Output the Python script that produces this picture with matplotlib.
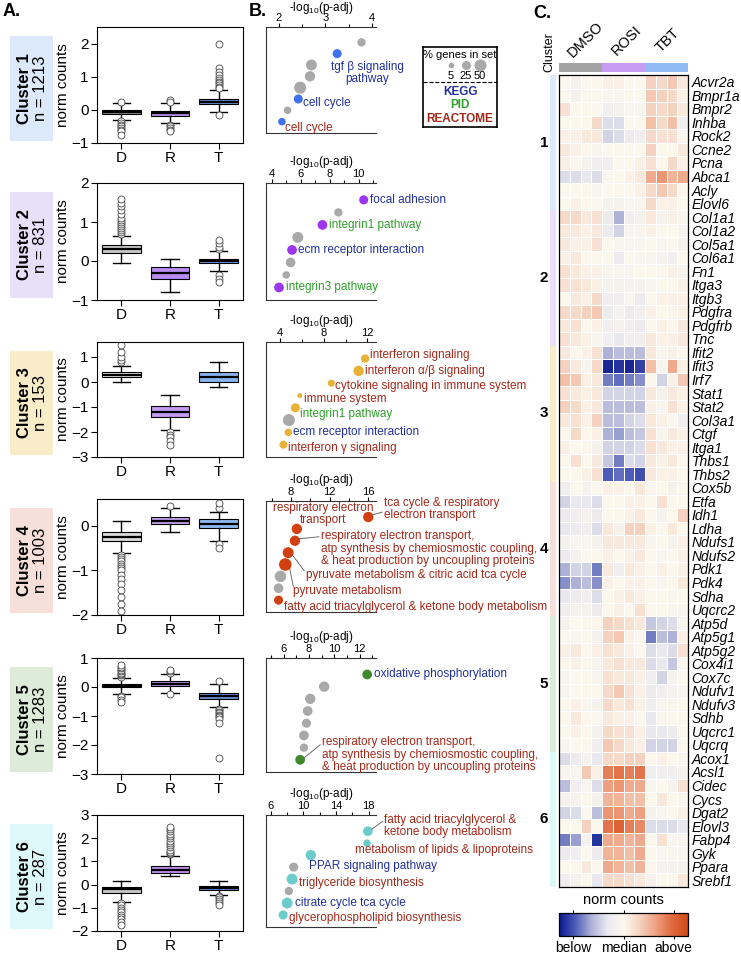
import matplotlib
matplotlib.use('Agg')
import matplotlib.pyplot as plt
import numpy as np
from matplotlib.colors import LinearSegmentedColormap, ListedColormap
from matplotlib.ticker import MultipleLocator

plt.rcParams['font.family'] = ['Liberation Sans', 'DejaVu Sans']
plt.rcParams['mathtext.fontset'] = 'custom'
plt.rcParams['mathtext.rm'] = 'Liberation Sans'
plt.rcParams['mathtext.it'] = 'Liberation Sans:italic'

# ---------------- data ----------------
cluster_n = [1213, 831, 153, 1003, 1283, 287]
cluster_bg = ['#dce9fb', '#e8dff9', '#f9edc9', '#f7dfda', '#dcecd8', '#ddf8f8']
groups = ['D', 'R', 'T']

# boxplot summaries (D, R, T) per cluster
box_med = [[-0.05, -0.1, 0.25], [0.3, -0.3, 0.0], [0.3, -1.2, 0.2],
           [-0.25, 0.1, 0.05], [0.05, 0.12, -0.3], [-0.2, 0.65, -0.15]]
box_q1 = [[-0.12, -0.18, 0.18], [0.2, -0.45, -0.05], [0.2, -1.4, 0.0],
          [-0.35, 0.03, -0.05], [0.0, 0.05, -0.4], [-0.35, 0.5, -0.22]]
box_q3 = [[0.0, -0.03, 0.33], [0.4, -0.15, 0.05], [0.4, -0.95, 0.4],
          [-0.15, 0.2, 0.15], [0.1, 0.2, -0.2], [-0.1, 0.8, -0.08]]
whis_lo = [[-0.3, -0.4, -0.05], [-0.05, -0.8, -0.25], [0.0, -1.9, -0.2],
           [-0.6, -0.15, -0.35], [-0.25, -0.2, -0.7], [-0.75, 0.35, -0.45]]
whis_hi = [[0.2, 0.2, 0.6], [0.65, 0.05, 0.25], [0.65, -0.5, 0.8],
           [0.1, 0.4, 0.3], [0.3, 0.45, 0.1], [0.15, 1.25, 0.15]]
fliers = [
    [[0.25, -0.35, -0.4, -0.45, -0.5, -0.55, -0.6, -0.65, -0.75],
     [0.3, 0.25, -0.45, -0.5, -0.55, -0.6, -0.65],
     [2.0, 1.25, 1.15, 1.05, 0.95, 0.9, 0.85, 0.8, 0.75, 0.7, 0.65, -0.15]],
    [[0.7, 0.75, 0.8, 0.85, 0.9, 0.95, 1.0, 1.05, 1.1, 1.2, 1.3, 1.4, 1.5, 1.6],
     [],
     [0.3, 0.35, 0.45, 0.55, -0.35, -0.45, -0.55]],
    [[0.8, 0.9, 1.0, 1.2, 1.5],
     [-2.0, -2.1, -2.2, -2.35, -2.5],
     []],
    [[-0.65, -0.7, -0.75, -0.8, -0.85, -0.9, -0.95, -1.0, -1.1, -1.2, -1.3, -1.45, -1.6, -1.75, -1.9],
     [0.45],
     [0.4, 0.5, -0.4, -0.5]],
    [[0.35, 0.4, 0.45, 0.5, 0.55, 0.6, 0.65, 0.7, 0.75, -0.3, -0.35, -0.45, -0.5],
     [0.5, 0.55, 0.6, -0.25],
     [0.2, -0.75, -0.8, -0.85, -0.9, -0.95, -1.0, -1.05, -1.1, -1.25, -2.45]],
    [[-0.8, -0.9, -1.0, -1.1, -1.2, -1.3, -1.4, -1.5, -1.6, -1.75],
     [1.3, 1.35, 1.4, 1.5, 1.6, 1.7, 1.8, 1.9, 2.0, 2.1, 2.2, 2.3, 2.4, 2.5],
     [-0.5, -0.55, -0.6, -0.7, -0.8, -0.9]],
]
box_colors = [['#8c8c8c', '#b68ce6', '#6f96d8'], ['#c8c8c8', '#b98cf0', '#7aa5e5'],
              ['#e4e4e4', '#c39cf0', '#8ab4f0'], ['#dadada', '#c5a0f0', '#90b8f0'],
              ['#707070', '#b890e8', '#6a8fd0'], ['#c8c8c8', '#c090f0', '#6a8fd0']]
a_ylim = [(-1, 2.5), (-1, 2), (-3, 1.6), (-2, 0.6), (-3, 1), (-2, 3)]
a_ticks = [[-1, 0, 1, 2], [-1, 0, 1, 2], [-3, -2, -1, 0, 1], [-2, -1, 0], [-3, -2, -1, 0, 1],
           [-2, -1, 0, 1, 2, 3]]

# enrichment (panel B)
b_x = [[3.77, 3.25, 2.7, 2.67, 2.46, 2.42, 2.19, 2.07],
       [10.35, 8.6, 7.5, 5.8, 5.4, 5.3, 5.0, 4.5],
       [11.8, 11.2, 8.7, 5.8, 5.4, 4.8, 4.75, 4.3],
       [16.0, 8.6, 8.4, 7.7, 7.4, 6.9, 6.7, 6.7],
       [12.6, 9.2, 8.1, 7.9, 7.8, 7.6, 7.6, 7.3],
       [17.9, 17.8, 10.9, 8.8, 8.6, 8.2, 8.0, 7.5]]
b_pct = [[20, 25, 40, 35, 50, 25, 15, 15],
         [25, 20, 30, 40, 30, 30, 15, 30],
         [20, 35, 12, 2, 25, 50, 15, 18],
         [35, 35, 35, 40, 55, 45, 30, 25],
         [30, 35, 35, 30, 25, 30, 20, 30],
         [30, 15, 35, 25, 40, 20, 40, 25]]
b_db = [['', 'KEGG', '', '', '', 'KEGG', '', 'REACTOME'],
        ['KEGG', '', 'PID', '', 'KEGG', '', '', 'PID'],
        ['REACTOME', 'REACTOME', 'REACTOME', 'REACTOME', 'PID', '', 'KEGG', 'REACTOME'],
        ['REACTOME', 'REACTOME', 'REACTOME', 'REACTOME', 'REACTOME', '', '', 'REACTOME'],
        ['KEGG', '', '', '', '', '', '', 'REACTOME'],
        ['REACTOME', 'REACTOME', 'KEGG', '', 'REACTOME', '', 'KEGG', 'REACTOME']]
resp = ('respiratory electron transport,\natp synthesis by chemiosmostic coupling,\n'
        '& heat production by uncoupling proteins')
b_terms = [['', 'tgf β signaling\npathway', '', '', '', 'cell cycle', '', 'cell cycle'],
           ['focal adhesion', '', 'integrin1 pathway', '', 'ecm receptor interaction', '', '',
            'integrin3 pathway'],
           ['interferon signaling', 'interferon α/β signaling', 'cytokine signaling in immune system',
            'immune system', 'integrin1 pathway', '', 'ecm receptor interaction',
            'interferon γ signaling'],
           ['tca cycle & respiratory\nelectron transport', 'respiratory electron\ntransport', resp,
            'pyruvate metabolism & citric acid tca cycle', 'pyruvate metabolism', '', '',
            'fatty acid triacylglycerol & ketone body metabolism'],
           ['oxidative phosphorylation', '', '', '', '', '', '', resp],
           ['fatty acid triacylglycerol &\nketone body metabolism', 'metabolism of lipids & lipoproteins',
            'PPAR signaling pathway', '', 'triglyceride biosynthesis', '', 'citrate cycle tca cycle',
            'glycerophospholipid biosynthesis']]
b_xlim = [(1.73, 4.08), (3.6, 11.2), (2.7, 12.8), (5.4, 16.8), (4.6, 13.3), (5.4, 18.9)]
b_major = [[2, 3, 4], [4, 6, 8, 10], [4, 8, 12], [8, 12, 16], [6, 8, 10, 12], [6, 10, 14, 18]]
b_minor = [0.5, 1, 2, 2, 1, 2]
dot_colors = ['#3f72ee', '#9b35ee', '#e9b236', '#d2400f', '#3f8a2c', '#6ccccc']
db_colors = {'KEGG': '#22309c', 'PID': '#2f9e2a', 'REACTOME': '#a3281a'}

# heatmap (panel C)
samples = ['DMSO'] * 4 + ['ROSI'] * 4 + ['TBT'] * 4
genes = ['Acvr2a', 'Bmpr1a', 'Bmpr2', 'Inhba', 'Rock2', 'Ccne2', 'Pcna', 'Abca1', 'Acly', 'Elovl6',
         'Col1a1', 'Col1a2', 'Col5a1', 'Col6a1', 'Fn1', 'Itga3', 'Itgb3', 'Pdgfra', 'Pdgfrb', 'Tnc',
         'Ifit2', 'Ifit3', 'Irf7', 'Stat1', 'Stat2', 'Col3a1', 'Ctgf', 'Itga1', 'Thbs1', 'Thbs2',
         'Cox5b', 'Etfa', 'Idh1', 'Ldha', 'Ndufs1', 'Ndufs2', 'Pdk1', 'Pdk4', 'Sdha', 'Uqcrc2',
         'Atp5d', 'Atp5g1', 'Atp5g2', 'Cox4i1', 'Cox7c', 'Ndufv1', 'Ndufv3', 'Sdhb', 'Uqcrc1', 'Uqcrq',
         'Acox1', 'Acsl1', 'Cidec', 'Cycs', 'Dgat2', 'Elovl3', 'Fabp4', 'Gyk', 'Ppara', 'Srebf1']
gene_cluster = [1] * 10 + [2] * 10 + [3] * 10 + [4] * 10 + [5] * 10 + [6] * 10
heat_values = [
    [0.0, -0.1, 0.0, 0.0, 0.05, 0.05, 0.0, 0.0, 0.25, 0.2, 0.3, 0.1],
    [0.0, -0.1, 0.0, 0.0, -0.05, -0.05, 0.0, 0.0, 0.3, 0.25, 0.2, 0.05],
    [0.15, 0.0, 0.0, 0.0, -0.15, -0.1, -0.05, -0.05, 0.25, 0.2, 0.25, 0.1],
    [0.0, 0.0, 0.0, 0.2, -0.3, -0.3, 0.0, 0.0, 0.35, 0.2, 0.35, -0.15],
    [0.05, 0.05, 0.1, 0.1, -0.35, -0.3, -0.2, -0.15, 0.2, 0.15, 0.15, -0.05],
    [0.1, 0.05, 0.0, -0.05, 0.0, 0.0, 0.0, 0.0, 0.25, 0.0, 0.0, 0.1],
    [0.05, 0.0, -0.1, -0.15, -0.15, 0.0, 0.0, 0.05, 0.15, 0.0, 0.2, 0.05],
    [-0.3, -0.3, -0.25, -0.3, -0.05, 0.0, 0.05, 0.1, 0.45, 0.55, 0.4, 0.45],
    [0.0, 0.0, 0.0, -0.05, 0.0, 0.0, 0.0, 0.05, 0.2, 0.3, 0.2, 0.0],
    [0.0, 0.05, 0.0, 0.0, -0.1, -0.1, -0.05, -0.05, 0.2, 0.05, 0.05, 0.0],
    [0.2, 0.2, 0.1, 0.15, -0.2, -0.5, -0.15, -0.1, 0.1, -0.1, 0.05, -0.05],
    [0.1, 0.1, 0.05, 0.1, -0.2, -0.35, -0.05, -0.05, 0.05, 0.0, 0.0, -0.1],
    [0.1, 0.05, 0.05, 0.15, 0.0, -0.05, -0.05, -0.05, 0.0, -0.05, 0.0, -0.1],
    [0.05, 0.1, 0.0, 0.0, 0.0, -0.2, 0.0, -0.05, -0.05, -0.1, -0.15, 0.0],
    [0.15, 0.1, 0.05, 0.05, -0.05, -0.05, -0.05, 0.0, 0.0, 0.0, 0.05, -0.1],
    [0.15, 0.15, 0.1, 0.05, -0.1, -0.1, -0.1, -0.1, -0.05, 0.0, 0.0, 0.05],
    [0.0, 0.1, 0.05, 0.2, -0.15, -0.15, -0.05, -0.2, 0.0, 0.05, 0.05, 0.05],
    [0.2, 0.2, 0.25, 0.3, -0.2, -0.1, -0.2, -0.15, 0.05, 0.0, -0.05, 0.05],
    [0.1, 0.15, 0.0, 0.05, -0.15, -0.1, -0.15, -0.2, 0.0, 0.05, 0.0, 0.1],
    [0.15, 0.1, 0.05, -0.05, -0.15, -0.25, -0.15, -0.15, 0.1, 0.05, 0.05, 0.1],
    [0.1, 0.0, 0.05, 0.15, -0.5, -0.45, -0.45, -0.45, 0.1, -0.05, 0.05, 0.0],
    [0.25, 0.1, -0.05, 0.2, -0.95, -0.9, -0.95, -0.85, 0.35, -0.05, 0.45, 0.05],
    [0.35, 0.3, 0.05, 0.1, -0.65, -0.7, -0.65, -0.6, 0.0, -0.35, 0.05, 0.3],
    [0.15, 0.1, 0.05, 0.1, -0.35, -0.35, -0.35, -0.35, 0.1, -0.1, 0.1, 0.05],
    [0.25, 0.2, 0.05, 0.1, -0.45, -0.45, -0.45, -0.45, 0.05, -0.05, 0.15, 0.05],
    [0.1, 0.15, 0.05, 0.25, -0.45, -0.45, -0.35, -0.3, 0.1, 0.05, 0.0, -0.15],
    [0.0, 0.2, 0.0, 0.05, -0.5, -0.55, -0.45, -0.4, 0.15, -0.05, 0.1, 0.05],
    [0.05, 0.0, 0.0, -0.1, -0.35, -0.35, -0.35, -0.3, 0.15, 0.1, 0.05, 0.05],
    [0.0, 0.15, 0.0, 0.1, -0.4, -0.65, -0.3, -0.35, 0.1, 0.05, 0.1, 0.0],
    [0.0, 0.0, 0.05, 0.15, -0.75, -0.7, -0.75, -0.8, 0.1, 0.05, 0.05, 0.0],
    [-0.15, 0.0, -0.1, 0.0, 0.05, 0.05, 0.0, 0.1, -0.05, 0.0, -0.1, 0.0],
    [-0.35, -0.25, -0.25, -0.3, 0.0, 0.0, 0.05, 0.05, 0.0, 0.15, 0.0, 0.0],
    [-0.2, -0.15, -0.1, -0.2, 0.0, 0.0, 0.05, 0.1, 0.0, -0.1, 0.0, 0.25],
    [-0.25, -0.2, -0.15, -0.3, 0.1, -0.1, 0.25, 0.25, 0.05, 0.0, 0.1, 0.0],
    [-0.1, -0.05, -0.05, -0.1, 0.1, 0.1, 0.1, 0.1, -0.05, 0.0, -0.1, 0.05],
    [-0.2, -0.1, 0.0, 0.0, 0.05, 0.0, 0.05, 0.1, 0.0, -0.05, 0.0, 0.05],
    [-0.5, -0.35, -0.35, -0.65, 0.1, -0.15, 0.1, 0.05, 0.0, 0.05, 0.0, 0.05],
    [-0.6, -0.5, -0.45, -0.6, 0.05, 0.0, 0.05, 0.05, 0.0, -0.05, 0.0, 0.1],
    [-0.25, -0.2, -0.15, -0.3, 0.0, 0.05, 0.1, 0.05, 0.0, 0.0, -0.05, 0.0],
    [-0.15, -0.1, -0.1, -0.2, 0.0, 0.05, 0.0, 0.15, 0.0, 0.0, -0.05, -0.05],
    [-0.1, 0.0, 0.0, 0.0, 0.25, 0.2, 0.15, 0.1, -0.4, -0.35, -0.3, -0.05],
    [0.0, -0.05, 0.0, -0.1, 0.25, 0.3, 0.05, 0.0, -0.65, -0.45, -0.5, 0.05],
    [0.05, 0.1, 0.0, 0.05, 0.15, 0.1, 0.05, 0.0, -0.3, -0.25, -0.3, 0.15],
    [0.0, 0.05, 0.0, -0.05, 0.1, 0.15, 0.1, 0.1, -0.3, -0.25, -0.4, -0.05],
    [-0.05, 0.0, 0.0, -0.05, 0.15, 0.1, 0.1, 0.05, -0.15, -0.35, -0.1, 0.0],
    [-0.05, 0.0, 0.0, 0.0, 0.2, 0.3, 0.15, 0.05, -0.2, -0.15, -0.1, -0.05],
    [0.0, 0.05, -0.05, -0.1, 0.2, 0.1, 0.15, 0.05, -0.15, -0.05, -0.05, 0.0],
    [0.0, 0.1, 0.0, 0.0, 0.1, 0.05, 0.05, 0.0, -0.25, -0.05, 0.0, 0.0],
    [0.0, 0.05, 0.0, -0.1, 0.2, 0.15, 0.15, 0.05, -0.25, -0.25, -0.2, 0.0],
    [-0.05, 0.0, 0.0, -0.15, 0.3, 0.2, 0.1, 0.05, -0.35, -0.35, -0.35, 0.0],
    [-0.3, -0.2, -0.1, -0.25, 0.2, 0.2, 0.25, 0.25, 0.0, 0.05, 0.0, -0.05],
    [-0.05, -0.05, 0.3, 0.05, 0.65, 0.7, 0.65, 0.7, -0.15, -0.15, -0.15, -0.1],
    [-0.45, -0.15, -0.05, -0.3, 0.5, 0.55, 0.45, 0.45, -0.05, 0.0, -0.1, 0.15],
    [-0.1, -0.1, 0.0, -0.1, 0.4, 0.4, 0.35, 0.35, 0.0, 0.1, 0.0, -0.05],
    [-0.35, -0.3, 0.0, -0.45, 0.55, 0.55, 0.45, 0.5, -0.1, -0.05, 0.0, 0.05],
    [0.0, 0.0, 0.25, 0.0, 0.7, 0.8, 0.65, 0.6, -0.3, -0.3, -0.3, -0.25],
    [-0.65, -0.55, -0.1, -0.9, 0.45, 0.45, 0.4, 0.45, 0.0, 0.15, -0.05, -0.05],
    [-0.2, -0.15, 0.0, -0.2, 0.4, 0.4, 0.35, 0.45, 0.0, -0.05, -0.05, -0.05],
    [0.0, 0.0, 0.1, 0.0, 0.45, 0.4, 0.35, 0.4, 0.0, -0.1, -0.1, -0.1],
    [-0.15, -0.1, 0.0, -0.25, 0.2, 0.2, 0.15, 0.1, -0.1, 0.0, 0.0, 0.1],
]

# ---------------- layout helpers ----------------
W, H = 741, 956
fig = plt.figure(figsize=(W / 100, H / 100), dpi=100)


def rect(l, t, r, b):
    return [l / W, 1 - b / H, (r - l) / W, (b - t) / H]


def fig_xy(x, y):
    return x / W, 1 - y / H


a_rows = [(27, 143), (183, 300), (342, 457), (499, 615), (658, 774), (815, 931)]
b_rows = [(27, 133), (183, 300), (342, 457), (501, 612), (658, 772), (815, 927)]

fig.text(*fig_xy(3, 12), 'A.', fontsize=13, fontweight='bold', va='center')
fig.text(*fig_xy(249, 12), 'B.', fontsize=13, fontweight='bold', va='center')
fig.text(*fig_xy(533, 13), 'C.', fontsize=13, fontweight='bold', va='center')

# ---------------- panel A ----------------
for k in range(6):
    top, bot = a_rows[k]
    # colored cluster label box
    lab = fig.add_axes(rect(10, top + 9, 53, bot - 2))
    lab.set_facecolor(cluster_bg[k])
    lab.set_xticks([]); lab.set_yticks([])
    for s in lab.spines.values():
        s.set_visible(False)
    lab.text(0.33, 0.5, 'Cluster %d' % (k + 1), rotation=90, ha='center', va='center',
             fontsize=12, fontweight='bold', transform=lab.transAxes)
    lab.text(0.72, 0.5, 'n = %d' % cluster_n[k], rotation=90, ha='center', va='center',
             fontsize=12, transform=lab.transAxes)

    ax = fig.add_axes(rect(97, top, 243, bot))
    stats = []
    for g in range(3):
        stats.append(dict(med=box_med[k][g], q1=box_q1[k][g], q3=box_q3[k][g],
                          whislo=whis_lo[k][g], whishi=whis_hi[k][g], fliers=fliers[k][g]))
    bp = ax.bxp(stats, positions=[1, 2, 3], widths=0.8, capwidths=0.35, patch_artist=True,
                boxprops=dict(edgecolor='black', linewidth=0.8),
                medianprops=dict(color='black', linewidth=1.6),
                whiskerprops=dict(color='black', linewidth=1.0),
                capprops=dict(color='black', linewidth=1.0),
                flierprops=dict(marker='o', markerfacecolor='white', markeredgecolor='#444444',
                                markersize=5, markeredgewidth=0.6))
    for g, patch in enumerate(bp['boxes']):
        patch.set_facecolor(box_colors[k][g])
    ax.set_xlim(0.5, 3.5)
    ax.set_ylim(*a_ylim[k])
    ax.set_yticks(a_ticks[k])
    ax.set_xticks([1, 2, 3])
    ax.set_xticklabels(groups)
    ax.tick_params(labelsize=11, length=4, width=0.8, pad=2)
    ax.set_ylabel('norm counts', fontsize=11, labelpad=1)
    for s in ax.spines.values():
        s.set_linewidth(0.8)

# ---------------- panel B ----------------
for k in range(6):
    top, bot = b_rows[k]
    ax = fig.add_axes(rect(266, top, 376, bot))
    n = len(b_x[k])
    ys = -np.arange(n)
    cols = [dot_colors[k] if d else '#a9a9a9' for d in b_db[k]]
    sizes = [10 + 1.3 * p for p in b_pct[k]]
    ax.scatter(b_x[k], ys, s=sizes, c=cols, linewidths=0, zorder=3, clip_on=False)
    ax.set_xlim(*b_xlim[k])
    ax.set_ylim(-(n - 1) - 1.0, 1.35)
    ax.xaxis.tick_top()
    ax.set_xticks(b_major[k])
    ax.xaxis.set_minor_locator(MultipleLocator(b_minor[k]))
    ax.tick_params(axis='x', which='major', labelsize=8, length=3, width=0.8, pad=0)
    ax.tick_params(axis='x', which='minor', length=2.5, width=0.8)
    ax.set_yticks([])
    # axis title above the top tick labels
    fig.text(*fig_xy(321, max(top - 21, 7.5)), '-log$_{10}$(p-adj)', fontsize=8.5,
             ha='center', va='center')
    ax.spines['right'].set_visible(False)
    for s in ['left', 'top', 'bottom']:
        ax.spines[s].set_linewidth(0.8)
        ax.spines[s].set_color('#333333')

# label placement: (cluster, point, dx px, dy px, ha, va, leader end dx, dy)
placements = [
    (0, 1, 30, -7, 'center', 'top', None), (0, 5, 5, -4, 'left', 'center', None),
    (0, 7, 3, -6, 'left', 'center', None),
    (1, 0, 6, 0, 'left', 'center', None), (1, 2, 7, 0, 'left', 'center', None),
    (1, 4, 6, 0, 'left', 'center', None), (1, 7, 7, 0, 'left', 'center', None),
    (2, 0, 5, 4, 'left', 'center', None), (2, 1, 6, 0, 'left', 'center', None),
    (2, 2, 4, -3, 'left', 'center', None), (2, 3, 4, -3, 'left', 'center', None),
    (2, 4, 5, -6, 'left', 'center', None), (2, 6, 5, 0, 'left', 'center', None),
    (2, 7, 5, -3, 'left', 'center', None),
    (3, 0, 16, 8, 'left', 'center', (14, 5)), (3, 1, 26, 15, 'center', 'center', None),
    (3, 2, 26, -8, 'left', 'center', (24, 4)), (3, 3, 18, -22, 'left', 'center', (16, -18)),
    (3, 4, 8, -26, 'left', 'center', (8, -22)), (3, 7, 5, -7, 'left', 'center', None),
    (4, 0, 7, 0, 'left', 'center', None), (4, 7, 22, 5, 'left', 'center', (20, 15)),
    (5, 0, 16, 5, 'left', 'center', (15, 10)), (5, 1, -12, -7, 'left', 'center', None),
    (5, 2, -2, -11, 'left', 'center', None), (5, 4, 7, -4, 'left', 'center', None),
    (5, 6, 8, 0, 'left', 'center', None), (5, 7, 6, -3, 'left', 'center', None),
]
for (k, i, dx, dy, ha, va, lead) in placements:
    top, bot = b_rows[k]
    n = len(b_x[k])
    # map data point to figure pixel position
    x0, x1 = b_xlim[k]
    y0, y1 = -(n - 1) - 1.0, 1.35
    px = 266 + (b_x[k][i] - x0) / (x1 - x0) * (376 - 266)
    py = bot - (-i - y0) / (y1 - y0) * (bot - top)
    fig.text(*fig_xy(px + dx, py - dy), b_terms[k][i], color=db_colors[b_db[k][i]],
             fontsize=8.5, ha=ha, va=va, multialignment='center' if ha == 'center' else 'left',
             linespacing=1.05)
    if lead is not None:
        fig.add_artist(plt.Line2D([(px + 4) / W, (px + lead[0]) / W],
                                  [1 - (py - 2 * np.sign(lead[1])) / H, 1 - (py - lead[1]) / H],
                                  color='#555555', linewidth=0.6))

# legend box
lg = fig.add_axes(rect(423, 47, 497, 127))
lg.set_xlim(0, 1); lg.set_ylim(0, 1)
lg.set_xticks([]); lg.set_yticks([])
for s in lg.spines.values():
    s.set_linewidth(1.2)
lg.text(0.5, 0.9, '% genes in set', ha='center', va='center', fontsize=8)
for xx, p in zip([0.38, 0.58, 0.77], [5, 25, 50]):
    lg.scatter([xx], [0.77], s=10 + 1.3 * p, c='#a9a9a9', linewidths=0)
    lg.text(xx, 0.64, str(p), ha='center', va='center', fontsize=8)
lg.plot([0, 1], [0.565, 0.565], ls='--', color='black', lw=0.8)
for yy, name in zip([0.44, 0.275, 0.1], ['KEGG', 'PID', 'REACTOME']):
    lg.text(0.5, yy, name, ha='center', va='center', fontsize=8.5, fontweight='bold',
            color=db_colors[name])

# ---------------- panel C ----------------
cmap = LinearSegmentedColormap.from_list('nc', ['#0d1a8e', '#4d5cb8', '#aeb2d8', '#e9e8ee',
                                                '#fcf8ee', '#f5d3c0', '#eea080', '#e06a40',
                                                '#d04a18'])
hv = np.array(heat_values)
axh = fig.add_axes(rect(559, 75, 688, 887))
axh.pcolormesh(hv, cmap=cmap, vmin=-1, vmax=1, edgecolors='white', linewidth=0.5)
axh.set_xlim(0, 12)
axh.set_ylim(len(genes), 0)
axh.set_xticks([])
axh.yaxis.tick_right()
axh.set_yticks(np.arange(len(genes)) + 0.5)
axh.set_yticklabels(genes, fontsize=10, fontstyle='italic')
axh.tick_params(axis='y', length=0, pad=2.5)
for s in axh.spines.values():
    s.set_linewidth(0.9)

# treatment bar
treat_colors = {'DMSO': '#a3a3a3', 'ROSI': '#c89cf2', 'TBT': '#8fbaf2'}
axt = fig.add_axes(rect(559, 63, 688, 72))
for j, smp in enumerate(samples):
    axt.bar(j + 0.5, 1, width=1.0, color=treat_colors[smp], linewidth=0)
axt.set_xlim(0, 12); axt.set_ylim(0, 1)
axt.axis('off')
for name, xc in zip(['DMSO', 'ROSI', 'TBT'], [585, 627, 668]):
    fig.text(*fig_xy(xc, 40), name, rotation=45, ha='center', va='center', fontsize=10.5)
fig.text(*fig_xy(549, 52), 'Cluster', rotation=90, ha='center', va='center', fontsize=9)

# cluster strip
axs = fig.add_axes(rect(550, 75, 556, 887))
strip_cmap = ListedColormap(cluster_bg)
axs.pcolormesh(np.array(gene_cluster).reshape(-1, 1) - 1, cmap=strip_cmap, vmin=-0.5, vmax=5.5)
axs.set_ylim(len(genes), 0)
axs.axis('off')
for c in range(1, 7):
    rows = [r for r, g in enumerate(gene_cluster) if g == c]
    yc = 75 + (np.mean(rows) + 0.5) / len(genes) * (887 - 75)
    fig.text(*fig_xy(544, yc), str(c), ha='center', va='center', fontsize=11, fontweight='bold')

# colorbar
cax = fig.add_axes(rect(559, 913, 688, 936))
sm = plt.cm.ScalarMappable(cmap=cmap, norm=plt.Normalize(-1, 1))
cb = fig.colorbar(sm, cax=cax, orientation='horizontal')
cb.set_ticks([-0.78, 0, 0.78])
cb.set_ticklabels(['below', 'median', 'above'])
cax.tick_params(labelsize=10, top=True, bottom=True, length=2.5, width=0.8, pad=1)
cb.outline.set_linewidth(0.9)
fig.text(*fig_xy(623, 900), 'norm counts', ha='center', va='center', fontsize=10.5)

fig.savefig('out.png', dpi=100)
